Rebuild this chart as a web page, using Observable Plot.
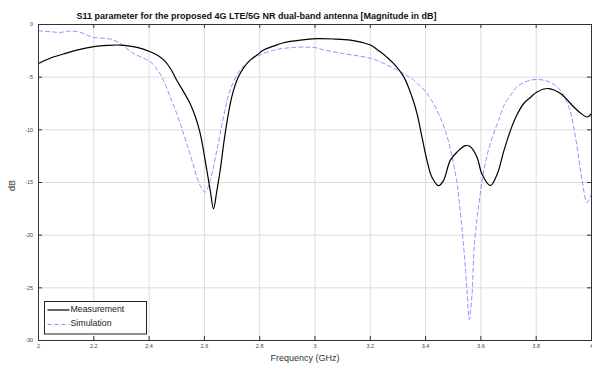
<!DOCTYPE html>
<html><head><meta charset="utf-8">
<script src="https://cdn.jsdelivr.net/npm/d3@7"></script>
<script src="https://cdn.jsdelivr.net/npm/@observablehq/plot@0.6"></script>
<style>
body{margin:0;background:#fff;font-family:"Liberation Sans",Arial,sans-serif}
#wrap{position:relative;width:592px;height:365px}
#legend{position:absolute;left:0;top:0}
</style>
</head><body><div id="wrap"></div>
<script>
const titleText = "S11 parameter for the proposed 4G LTE/5G NR dual-band antenna [Magnitude in dB]";
const xLabel = "Frequency (GHz)";
const yLabel = "dB";
const seriesNames = ["Measurement", "Simulation"];

const measFreq = [2.000,2.042,2.090,2.138,2.200,2.250,2.295,2.330,2.360,2.404,2.432,2.458,2.480,2.500,2.525,2.548,2.568,2.585,2.609,2.622,2.633,2.645,2.657,2.675,2.699,2.723,2.745,2.766,2.790,2.814,2.850,2.886,2.947,3.007,3.070,3.128,3.170,3.200,3.236,3.260,3.284,3.321,3.351,3.369,3.387,3.405,3.423,3.447,3.465,3.489,3.514,3.544,3.562,3.586,3.604,3.634,3.659,3.683,3.707,3.730,3.755,3.780,3.803,3.845,3.888,3.936,3.960,3.984,4.000];
const measDb = [-3.7,-3.2,-2.8,-2.43,-2.1,-1.98,-1.95,-2.05,-2.2,-2.59,-2.95,-3.5,-4.3,-5.29,-6.4,-7.5,-8.8,-10.36,-13.86,-15.9,-17.5,-15.8,-13.86,-10.36,-6.88,-4.97,-4.0,-3.38,-2.9,-2.43,-2.05,-1.73,-1.48,-1.35,-1.38,-1.48,-1.7,-1.95,-2.59,-3.1,-3.7,-4.97,-6.88,-8.46,-10.7,-12.9,-14.5,-15.3,-14.8,-12.9,-12.1,-11.5,-11.6,-12.6,-14.2,-15.3,-14.2,-12.0,-10.05,-8.6,-7.5,-6.9,-6.4,-6.08,-6.55,-7.83,-8.4,-8.78,-8.46];

const simFreq = [2.000,2.040,2.078,2.114,2.150,2.198,2.259,2.295,2.343,2.404,2.430,2.452,2.475,2.500,2.525,2.548,2.585,2.603,2.621,2.645,2.669,2.693,2.729,2.766,2.800,2.850,2.886,2.947,3.000,3.031,3.100,3.200,3.236,3.309,3.357,3.405,3.441,3.471,3.496,3.514,3.520,3.538,3.550,3.558,3.568,3.576,3.598,3.610,3.634,3.664,3.685,3.705,3.731,3.779,3.827,3.876,3.918,3.942,3.966,3.984,4.000];
const simDb = [-0.6,-0.68,-0.75,-0.62,-0.74,-1.22,-1.38,-1.8,-2.74,-3.54,-4.3,-5.29,-6.8,-8.46,-10.4,-12.3,-15.3,-15.9,-14.8,-11.95,-8.78,-6.24,-4.33,-3.38,-2.9,-2.45,-2.27,-2.15,-2.2,-2.4,-2.75,-3.2,-3.54,-4.5,-5.29,-6.55,-8.14,-10.05,-12.6,-15.1,-16.4,-21.2,-25.3,-28.0,-25.6,-21.0,-16.0,-13.9,-11.3,-9.1,-7.6,-6.8,-5.92,-5.29,-5.29,-5.92,-7.83,-10.7,-14.8,-16.9,-16.1];

const xTicks = [2,2.2,2.4,2.6,2.8,3,3.2,3.4,3.6,3.8,4];
const xTickLabels = ["2","2.2","2.4","2.6","2.8","3","3.2","3.4","3.6","3.8","4"];
const yTicks = [0,-5,-10,-15,-20,-25,-30];
const yTickLabels = ["0","-5","-10","-15","-20","-25","-30"];

const meas = measFreq.map((f,i)=>({f, db: measDb[i]}));
const sim = simFreq.map((f,i)=>({f, db: simDb[i]}));

const W = 592, H = 365;
const mL = 38, mR = 1, mT = 24, mB = 25;
const innerW = W - mL - mR, innerH = H - mT - mB;
const tickLen = 4;
const font = "Liberation Sans, Arial, sans-serif";

const chart = Plot.plot({
  width: W, height: H,
  marginLeft: mL, marginRight: mR, marginTop: mT, marginBottom: mB,
  style: {fontFamily: font, background: "#fff", overflow: "visible"},
  x: {domain: [2, 4]},
  y: {domain: [-30, 0]},
  marks: [
    Plot.gridX(xTicks, {stroke: "#dcdcdc", strokeOpacity: 1, strokeWidth: 1}),
    Plot.gridY(yTicks, {stroke: "#dcdcdc", strokeOpacity: 1, strokeWidth: 1}),
    Plot.line(sim, {x: "f", y: "db", stroke: "#7373ff", strokeWidth: 0.8, strokeDasharray: "4,3", curve: "catmull-rom"}),
    Plot.line(meas, {x: "f", y: "db", stroke: "#000", strokeWidth: 1.2, curve: "catmull-rom"}),
    Plot.frame({stroke: "#333", strokeWidth: 1}),
    // inward ticks on all four sides
    Plot.tickX(xTicks, {x: d => d, stroke: "#333", strokeWidth: 1, insetTop: innerH - tickLen}),
    Plot.tickX(xTicks, {x: d => d, stroke: "#333", strokeWidth: 1, insetBottom: innerH - tickLen}),
    Plot.tickY(yTicks, {y: d => d, stroke: "#333", strokeWidth: 1, insetRight: innerW - tickLen}),
    Plot.tickY(yTicks, {y: d => d, stroke: "#333", strokeWidth: 1, insetLeft: innerW - tickLen}),
    Plot.axisX(xTicks, {anchor: "bottom", tickSize: 0, tickPadding: 4, fontSize: 5.5, fill: "#444", label: null, tickFormat: (d, i) => xTickLabels[i]}),
    Plot.axisY(yTicks, {anchor: "left", tickSize: 0, tickPadding: 5.5, fontSize: 5.5, fill: "#444", label: null, tickFormat: (d, i) => yTickLabels[i]}),
    Plot.text([titleText], {frameAnchor: "top-left", dx: 218, dy: -11.5, text: d => d, fontSize: 9, fontWeight: "bold", textAnchor: "middle", fill: "#111"}),
    Plot.text([xLabel], {frameAnchor: "bottom", dx: -10, dy: 20, text: d => d, fontSize: 9, textAnchor: "middle", fill: "#333"}),
    Plot.text([yLabel], {frameAnchor: "left", dx: -26, dy: 3, text: d => d, fontSize: 9, rotate: -90, textAnchor: "middle", fill: "#333"})
  ]
});
const wrap = document.getElementById("wrap");
wrap.appendChild(chart);

// legend overlay
const ns = "http://www.w3.org/2000/svg";
const lg = document.createElementNS(ns, "svg");
lg.setAttribute("id", "legend");
lg.setAttribute("width", W); lg.setAttribute("height", H);
lg.style.pointerEvents = "none";
const lx = 44.5, ly = 301.5, lw = 102, lh = 32.5;
const box = document.createElementNS(ns, "rect");
box.setAttribute("x", lx); box.setAttribute("y", ly); box.setAttribute("width", lw); box.setAttribute("height", lh);
box.setAttribute("fill", "#fff"); box.setAttribute("stroke", "#222"); box.setAttribute("stroke-width", "1");
lg.appendChild(box);
const styles = [{stroke: "#000", w: 1.2, dash: null}, {stroke: "#7373ff", w: 0.8, dash: "4,3"}];
seriesNames.forEach((name, i) => {
  const yy = 310 + i * 14.5;
  const ln = document.createElementNS(ns, "line");
  ln.setAttribute("x1", 47.5); ln.setAttribute("x2", 69.5); ln.setAttribute("y1", yy); ln.setAttribute("y2", yy);
  ln.setAttribute("stroke", styles[i].stroke); ln.setAttribute("stroke-width", styles[i].w);
  if (styles[i].dash) ln.setAttribute("stroke-dasharray", styles[i].dash);
  lg.appendChild(ln);
  const t = document.createElementNS(ns, "text");
  t.setAttribute("x", 70.5); t.setAttribute("y", yy + 1.5);
  t.setAttribute("font-size", "8.8"); t.setAttribute("font-family", font); t.setAttribute("fill", "#222");
  t.textContent = name;
  lg.appendChild(t);
});
wrap.appendChild(lg);
</script>
</body></html>
